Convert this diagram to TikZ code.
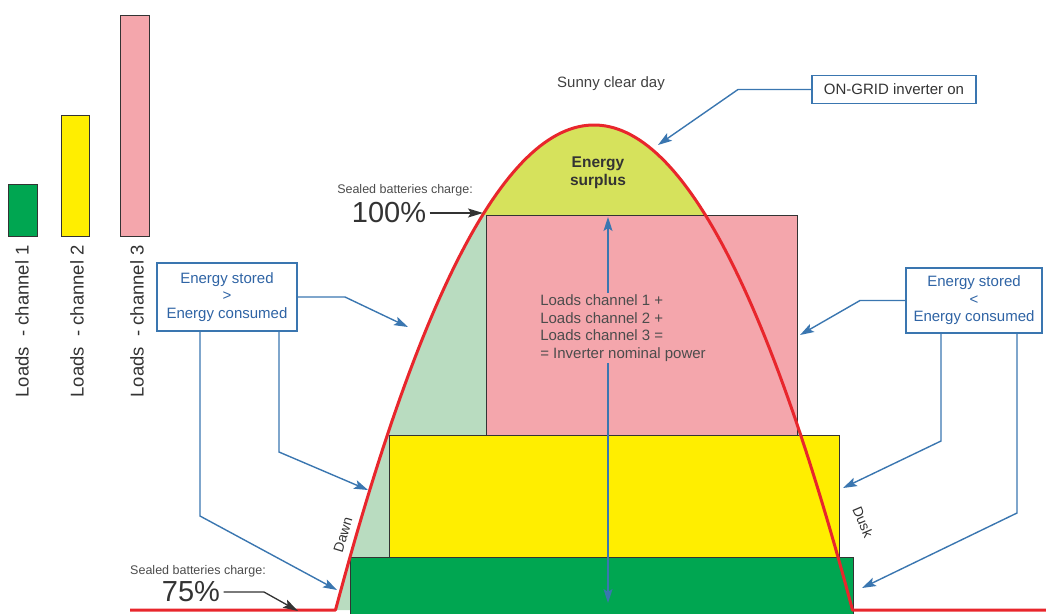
\documentclass[tikz,border=0pt]{standalone}
\usepackage{fontspec}
\setmainfont{Liberation Sans}
\usetikzlibrary{arrows.meta}

\definecolor{chgreen}{RGB}{0,166,81}
\definecolor{chyellow}{RGB}{255,238,0}
\definecolor{chpink}{RGB}{244,166,172}
\definecolor{lgreen}{RGB}{185,220,192}
\definecolor{surplus}{RGB}{214,226,92}
\definecolor{sunred}{RGB}{232,38,44}
\definecolor{arrblue}{RGB}{58,118,176}
\definecolor{textblue}{RGB}{47,100,165}

\begin{document}
\begin{tikzpicture}[x=1pt,y=-1pt]
\tikzstyle{block} = [draw = black!80, line width=1pt]
\tikzstyle{legend} = [rotate=90, anchor=east, inner sep=0pt, text=black!80, font=\fontsize{18.5}{21}\selectfont]
\tikzstyle{note} = [rectangle, draw = arrblue, line width=1.3pt, fill=white, text=textblue, align=center, font=\fontsize{15}{17.5}\selectfont]
\tikzstyle{label} = [text=black!80, font=\fontsize{15}{17.5}\selectfont]
\tikzstyle{edge} = [-{Stealth[length=14pt,width=9pt,inset=3pt]}, arrblue, line width=1.4pt]
\tikzstyle{black edge} = [-{Stealth[length=15pt,width=9pt,inset=3pt]}, black!80, line width=1.3pt]
\useasboundingbox (0,0) rectangle (1046,613);

% legend bars
\draw[block, fill=chgreen] (8,184) rectangle (37,236);
\draw[block, fill=chyellow] (61,115) rectangle (89,236);
\draw[block, fill=chpink] (120,15) rectangle (149,236);
\node[legend] (ch1) at (22,245) {Loads\ \ - channel 1};
\node[legend] (ch2) at (77,245) {Loads\ \ - channel 2};
\node[legend] (ch3) at (137,245) {Loads\ \ - channel 3};

% area under the sun curve
\fill[lgreen] plot[domain=335.5:852.5, samples=120] (\x, {610-485*(1-((\x-594)/258.5)^2)}) -- cycle;
\begin{scope}
\clip plot[domain=335.5:852.5, samples=120] (\x, {610-485*(1-((\x-594)/258.5)^2)}) -- cycle;
\fill[surplus] (300,100) rectangle (900,215);
\end{scope}

% loads
\draw[block, fill=chpink] (486,215) rectangle (797,435);
\draw[block, fill=chyellow] (389,435) rectangle (839,557);
\draw[block, fill=chgreen] (350,557) rectangle (853,630);

% sun curve
\draw[sunred, line width=3pt, line join=round] (130,610) -- plot[domain=335.5:852.5, samples=120] (\x, {610-485*(1-((\x-594)/258.5)^2)}) -- (1046,610);

% nominal power
\coordinate (ptop) at (608,217);
\coordinate (pbot) at (608,603);
\draw[edge, {Stealth[length=14pt,width=9pt,inset=3pt]}-{Stealth[length=14pt,width=9pt,inset=3pt]}] (pbot) -- (ptop);
\node[label, align=left, fill=chpink, inner sep=2pt, text=black!70] (loads) at (623,328) {Loads channel 1 +\\Loads channel 2 +\\Loads channel 3 =\\= Inverter nominal power};
\node[label, align=center, font=\fontsize{15.5}{18}\selectfont\bfseries] (surplus) at (598,173) {Energy\\surplus};
\node[label, text=black!75] (sunny) at (611,84) {Sunny clear day};
\node[label, rotate=73, font=\fontsize{14}{16}\selectfont] (dawn) at (343,535) {Dawn};
\node[label, rotate=-67, font=\fontsize{14}{16}\selectfont] (dusk) at (863,522) {Dusk};

% battery charge
\node[label, text=black!70, font=\fontsize{12.5}{14}\selectfont] (sb100) at (405,190) {Sealed batteries charge:};
\node[label, font=\fontsize{29}{32}\selectfont] (p100) at (389,213) {100\%};
\coordinate (c100) at (483,213);
\draw[black edge] (p100.east) -- (c100);
\node[label, text=black!70, font=\fontsize{12.5}{14}\selectfont] (sb75) at (198,571) {Sealed batteries charge:};
\node[label, font=\fontsize{29}{32}\selectfont] (p75) at (191,592) {75\%};
\coordinate (k75) at (264,592);
\coordinate (c75) at (298,611);
\draw[black edge] (p75.east) -- (k75) -- (c75);

% notes
\node[note, text=black!80, minimum width=164pt, minimum height=28pt] (ongrid) at (894,89.5) {ON-GRID inverter on};
\node[note, minimum width=140pt, minimum height=68pt] (storeL) at (227,297) {Energy stored\\>\\Energy consumed};
\node[note, minimum width=136pt, minimum height=65pt] (storeR) at (974,300.5) {Energy stored\\<\\Energy consumed};

\coordinate (onbend) at (738,89.5);
\coordinate (ontip) at (658,145);
\draw[edge] (ongrid.west) -- (onbend) -- (ontip);

\coordinate (la1) at (345,297);
\coordinate (la2) at (408,327);
\coordinate (lb1) at (279,452);
\coordinate (lb2) at (368,490);
\coordinate (lc1) at (200,516);
\coordinate (lc2) at (337,590);
\draw[edge] (storeL.east) -- (la1) -- (la2);
\draw[edge] (storeL.south -| lb1) -- (lb1) -- (lb2);
\draw[edge] (storeL.south -| lc1) -- (lc1) -- (lc2);

\coordinate (ra1) at (860,300.5);
\coordinate (ra2) at (800,335);
\coordinate (rb1) at (941,441);
\coordinate (rb2) at (843,488);
\coordinate (rc1) at (1017,513);
\coordinate (rc2) at (862,588);
\draw[edge] (storeR.west) -- (ra1) -- (ra2);
\draw[edge] (storeR.south -| rb1) -- (rb1) -- (rb2);
\draw[edge] (storeR.south -| rc1) -- (rc1) -- (rc2);
\end{tikzpicture}
\end{document}
